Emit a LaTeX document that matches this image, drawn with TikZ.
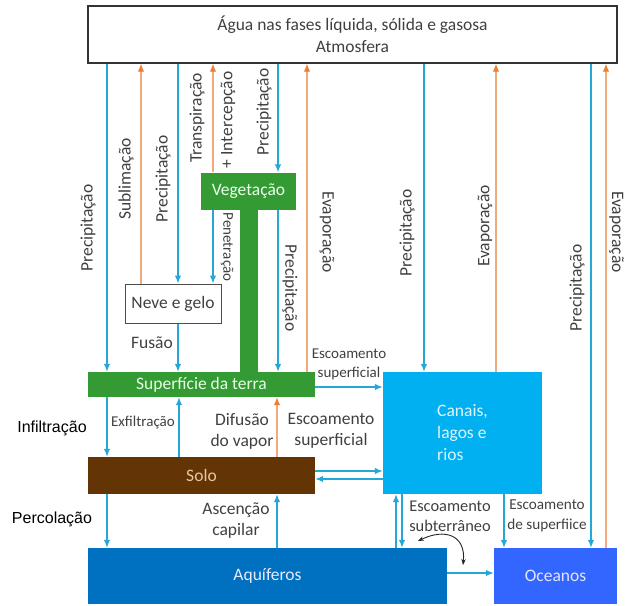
\documentclass[tikz,border=0pt]{standalone}
\usepackage{fontspec}
\setmainfont{Carlito}
\newfontfamily\arialfont{Liberation Sans}
\usepackage{tikz}
\usetikzlibrary{arrows.meta,positioning,calc}
\definecolor{myblue}{RGB}{38,168,214}
\definecolor{myorange}{RGB}{242,170,125}
\definecolor{myorangetip}{RGB}{237,125,49}
\definecolor{mygreen}{RGB}{52,154,52}
\definecolor{mybrown}{RGB}{99,52,4}
\definecolor{mycyan}{RGB}{0,176,240}
\definecolor{mydarkblue}{RGB}{0,112,192}
\definecolor{myocean}{RGB}{51,102,255}
\definecolor{mytext}{RGB}{64,64,64}

\begin{document}
\begin{tikzpicture}[
  x=1pt, y=-1pt,
  mybox/.style={
    rectangle,
    inner sep=0pt,
    align=center,
    font=\fontsize{17.5}{22}\selectfont
    },
  mylabel/.style={
    text=mytext,
    inner sep=0pt,
    align=center,
    font=\fontsize{17.5}{21}\selectfont
    },
  mysmall/.style={
    mylabel,
    font=\fontsize{15}{19}\selectfont
    },
  precip/.style={
    myblue,
    line width=1.3pt,
    -{Latex[length=8pt,width=6.5pt]}
    },
  evap/.style={
    myorange,
    line width=1.3pt,
    -{Latex[length=8pt,width=6.5pt,color=myorangetip]}
    }
]
\useasboundingbox (0,0) rectangle (626,605);

% caixas
\node[mybox, draw=black!80, line width=1.3pt, minimum width=529, minimum height=57, text=mytext]
  (atm) at (352.5,34.5) {Água nas fases líquida, sólida e gasosa\\Atmosfera};
\node[mybox, fill=mygreen, minimum width=95, minimum height=37, text=green!8]
  (veg) at (248.5,191) {Vegetação};
\node[mybox, draw=black!70, line width=1pt, fill=white, minimum width=96, minimum height=39, text=mytext]
  (neve) at (173,303.5) {Neve e gelo};
\node[mybox, fill=mygreen, minimum width=227, minimum height=25, text=green!10]
  (sup) at (201.5,384.5) {Superfície da terra};
\node[mybox, fill=mybrown, minimum width=227, minimum height=37, text={rgb,255:red,232;green,200;blue,160}]
  (solo) at (201.5,475.5) {Solo};
\node[mybox, fill=mycyan, minimum width=159, minimum height=122, align=left, text=cyan!12]
  (canais) at (462.5,433) {Canais,\\lagos e\\rios};
\node[mybox, fill=mydarkblue, minimum width=359, minimum height=56, text=blue!8]
  (aqui) at (267.5,576) {Aquíferos};
\node[mybox, fill=myocean, minimum width=123, minimum height=56, text=blue!10]
  (oceanos) at (555.5,576) {Oceanos};

% tronco da vegetação
\fill[mygreen] (veg.south -| 240,0) rectangle (sup.north -| 258,0);

% atmosfera
\foreach \xpos/\alvo in {107/sup,178/neve,278/veg,424/canais,591/oceanos}
  \draw[precip] (atm.south -| \xpos,0) -- (\alvo.north -| \xpos,0);
\foreach \xpos/\fonte in {141/neve,213/veg,307/sup,496/canais,606/oceanos}
  \draw[evap] (\fonte.north -| \xpos,0) -- (atm.south -| \xpos,0);

% fluxos entre caixas
\draw[precip] (veg.south -| 213,0) -- (neve.north -| 213,0);
\draw[precip] (veg.south -| 278,0) -- (sup.north -| 278,0);
\draw[precip] (neve.south -| 178,0) -- (sup.north -| 178,0);
\draw[precip] (sup.south -| 107,0) -- (solo.north -| 107,0);
\draw[precip] (solo.north -| 179,0) -- (sup.south -| 179,0);
\draw[evap] (solo.north -| 277,0) -- (sup.south -| 277,0);
\draw[precip] (solo.south -| 107,0) -- (aqui.north -| 107,0);
\draw[precip] (aqui.north -| 277,0) -- (solo.south -| 277,0);
\draw[precip] (sup.east |- 0,387) -- (canais.west |- 0,387);
\draw[precip] (solo.east |- 0,471) -- (canais.west |- 0,471);
\draw[precip] (canais.west |- 0,479) -- (solo.east |- 0,479);
\draw[precip] (aqui.north -| 396,0) -- (canais.south -| 396,0);
\draw[precip] (canais.south -| 402,0) -- (aqui.north -| 402,0);
\draw[precip] (canais.south -| 504,0) -- (oceanos.north -| 504,0);
\draw[precip] (aqui.east |- 0,573) -- (oceanos.west |- 0,573);

\coordinate (curvaA) at (418,541);
\coordinate (curvaB) at (463,565);
\draw[{Stealth[length=6pt]}-{Stealth[length=6pt]}, line width=0.9pt, black!85]
  (curvaA) .. controls (445,528) and (466,535) .. (curvaB);

% rótulos verticais
\node[mylabel, rotate=90] (lprec1) at (88,228) {Precipitação};
\node[mylabel, rotate=90] (lsubl) at (126,179) {Sublimação};
\node[mylabel, rotate=90] (lprec2) at (163,179) {Precipitação};
\node[mylabel, rotate=90] (ltransp) at (197,118) {Transpiração};
\node[mylabel, rotate=90] (linterc) at (228,120) {+ Intercepção};
\node[mylabel, rotate=90] (lprec3) at (264,112) {Precipitação};
\node[mysmall, rotate=-90] (lpenet) at (227,247) {Penetração};
\node[mylabel, rotate=-90] (lprec4) at (290,288) {Precipitação};
\node[mylabel, rotate=-90] (levap1) at (327,232) {Evaporação};
\node[mylabel, rotate=90] (lprec5) at (407,233) {Precipitação};
\node[mylabel, rotate=90] (levap2) at (485,226) {Evaporação};
\node[mylabel, rotate=90] (lprec6) at (577,288) {Precipitação};
\node[mylabel, rotate=-90] (levap3) at (616.5,232) {Evaporação};

% rótulos horizontais
\node[mylabel] (lfusao) at (152,343) {Fusão};
\node[mysmall] (lesc1) at (349,364) {Escoamento\\superficial};
\node[mysmall] (lexfil) at (143,423) {Exfiltração};
\node[mylabel] (ldifus) at (242,431) {Difusão\\do vapor};
\node[mylabel] (lesc2) at (331,431) {Escoamento\\superficial};
\node[mylabel] (lascen) at (236,521) {Ascenção\\capilar};
\node[mylabel, font=\fontsize{16.4}{20}\selectfont] (lesc3) at (450,516) {Escoamento\\subterrâneo};
\node[mylabel, font=\fontsize{15.2}{20}\selectfont] (lesc4) at (547,516) {Escoamento\\de superfiice};
\node[text=black, font=\arialfont\fontsize{16}{19}\selectfont] (linfil) at (52,428) {Infiltração};
\node[text=black, font=\arialfont\fontsize{16}{19}\selectfont] (lperc) at (52,519) {Percolação};

\end{tikzpicture}
\end{document}
